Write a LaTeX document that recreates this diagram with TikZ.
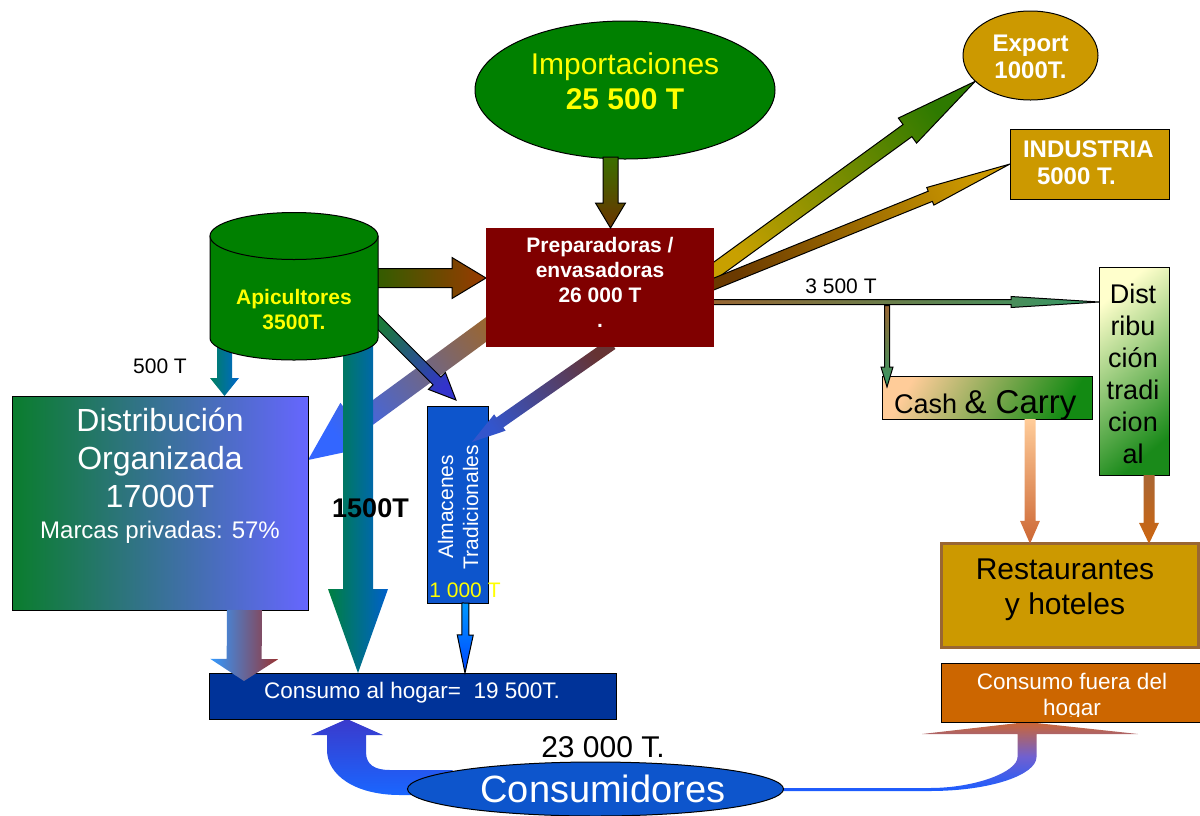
\documentclass[tikz,border=0pt]{standalone}
\usepackage{fontspec}
\setmainfont{Liberation Sans}
\usetikzlibrary{calc,shapes.geometric}
\pgfdeclarelayer{back}
\pgfdeclarelayer{mid}
\pgfsetlayers{back,mid,main}
\definecolor{gr}{HTML}{008000}
\definecolor{yel}{HTML}{FFFF00}
\definecolor{prepred}{HTML}{800000}
\definecolor{gold}{HTML}{CC9900}
\definecolor{orng}{HTML}{CC6600}
\definecolor{navytwo}{HTML}{003399}
\definecolor{blu}{HTML}{0D55CC}
\definecolor{brn}{HTML}{996633}
\definecolor{dogreen}{HTML}{0A7D2D}
\definecolor{doblue}{HTML}{6666FF}
\definecolor{impA}{HTML}{3A7000}
\definecolor{impB}{HTML}{6B3300}
\definecolor{apA}{HTML}{2E5E00}
\definecolor{apB}{HTML}{9A3A00}
\definecolor{aaA}{HTML}{1A7A3A}
\definecolor{aaB}{HTML}{3333CC}
\definecolor{paA}{HTML}{663333}
\definecolor{paB}{HTML}{3355CC}
\definecolor{pdA}{HTML}{996633}
\definecolor{pdB}{HTML}{3366FF}
\definecolor{bgA}{HTML}{008040}
\definecolor{bgB}{HTML}{0060CC}
\definecolor{fhA}{HTML}{008060}
\definecolor{fhB}{HTML}{0066CC}
\definecolor{dcA}{HTML}{3399FF}
\definecolor{dcB}{HTML}{993333}
\definecolor{acA}{HTML}{0099FF}
\definecolor{acB}{HTML}{0044FF}
\definecolor{exA}{HTML}{C8A000}
\definecolor{exB}{HTML}{2E7A00}
\definecolor{inA}{HTML}{6B3A00}
\definecolor{inB}{HTML}{CC9900}
\definecolor{lnB}{HTML}{339966}
\definecolor{peach}{HTML}{FFCC99}
\definecolor{ccB}{HTML}{138A13}
\definecolor{dtA}{HTML}{FFFFCC}
\definecolor{dtB}{HTML}{1A8A1A}
\definecolor{crB}{HTML}{CC6633}
\definecolor{drA}{HTML}{AA6633}
\definecolor{drB}{HTML}{CC6611}
\definecolor{lcA}{HTML}{3A3ACC}
\definecolor{lcB}{HTML}{1A66FF}
\definecolor{rcA}{HTML}{CC6633}
\definecolor{rcM}{HTML}{7060D0}
\definecolor{rcB}{HTML}{1A5CFF}
% block arrow: #1 options, #2 tail, #3 tip, #4 half shaft, #5 half head, #6 head length
\newcommand\blockarrow[6]{%
  \coordinate (bat) at (#2);
  \coordinate (bap) at (#3);
  \coordinate (bah) at ($(bap)!#6pt!(bat)$);
  \path[#1] ($(bat)!#4pt!90:(bap)$) -- ($(bah)!#4pt!-90:(bat)$) -- ($(bah)!#5pt!-90:(bat)$) -- (bap) -- ($(bah)!#5pt!90:(bat)$) -- ($(bah)!#4pt!90:(bat)$) -- ($(bat)!#4pt!-90:(bap)$) -- cycle;}
\begin{document}
\begin{tikzpicture}[x=1pt,y=-1pt,
  shp/.style={inner sep=0pt, outer sep=0pt},
  box/.style={shp, rectangle, draw=black, line width=1pt},
  lbl/.style={inner sep=0pt, outer sep=0pt, align=center},
  outl/.style={draw=black, line width=1pt}]
\useasboundingbox (0,0) rectangle (1200,815);

% ---------- nodes ----------
\node[shp, ellipse, draw=black, line width=1pt, fill=gr, minimum width=300pt, minimum height=138pt] (imp) at (625,90) {};
\node[lbl, text=yel, font=\fontsize{30}{35}\selectfont] at (625,81.75) {Importaciones\\\textbf{25 500 T}};

\node[shp, rectangle, fill=prepred, minimum width=228pt, minimum height=119pt] (prep) at (600,287.5) {};
\node[lbl, text=white, font=\bfseries\fontsize{21}{24.7}\selectfont] at (600,282.4) {Preparadoras /\\envasadoras\\26 000 T\\.};

\node[shp, minimum width=168pt, minimum height=148pt] (apic) at (294,286) {};
\filldraw[fill=gr, draw=black, line width=1pt] (210,236) -- (210,338) arc[start angle=180, end angle=360, x radius=84pt, y radius=22pt] -- (378,236) -- cycle;
\filldraw[fill=gr, draw=black, line width=1pt] (294,236) ellipse[x radius=84pt, y radius=23.5pt];
\node[lbl, text=yel, font=\bfseries\fontsize{21}{25}\selectfont] at (294,310) {Apicultores\\3500T.};

\node[box, left color=dogreen, right color=doblue, minimum width=296pt, minimum height=214pt] (dorg) at (160,503) {};
\node[lbl, text=white, font=\fontsize{32}{38}\selectfont] at (160,458.3) {Distribución\\Organizada\\17000T};
\node[lbl, text=white, anchor=base, font=\fontsize{24}{28}\selectfont] at (160,538) {Marcas privadas: 57\%};

\node[box, fill=blu, minimum width=61pt, minimum height=197pt] (alm) at (457.5,504.5) {};
\node[lbl, text=white, rotate=90, font=\fontsize{21}{25}\selectfont] at (458,507) {Almacenes\\Tradicionales};
\node[lbl, text=yel, anchor=base, font=\fontsize{21}{25}\selectfont] at (465,597) {1 000 T};

\node[box, fill=navytwo, minimum width=407pt, minimum height=46pt] (cah) at (412.5,696) {};
\node[lbl, text=white, anchor=base, font=\fontsize{22.5}{27}\selectfont] at (412,698) {Consumo al hogar=\ \ 19 500T.};

\node[shp, ellipse, draw=black, line width=1pt, fill=blu, minimum width=376pt, minimum height=54pt] (cons) at (595.5,789) {};
\node[lbl, text=white, anchor=base, font=\fontsize{38}{44}\selectfont] at (603,802) {Consumidores};
\node[lbl, anchor=base, font=\fontsize{30}{35}\selectfont] at (603,757) {23 000 T.};

\node[shp, ellipse, draw=black, line width=1pt, fill=gold, minimum width=135pt, minimum height=89pt] (exp) at (1030.5,55.5) {};
\node[lbl, text=white, font=\bfseries\fontsize{24}{27}\selectfont] at (1030.5,56.7) {Export\\1000T.};

\node[box, fill=gold, minimum width=159pt, minimum height=70pt] (ind) at (1089.5,164) {};
\node[lbl, align=left, anchor=west, text=white, font=\bfseries\fontsize{24}{27}\selectfont] at (1023,162.9) {INDUSTRIA\\\hspace*{14pt}5000 T.};

\node[box, top color=peach, bottom color=ccB, shading angle=60, minimum width=210pt, minimum height=43pt] (cash) at (987,397.5) {};
\node[lbl, anchor=base west, font=\fontsize{27}{32}\selectfont] at (894,413) {Cash {\fontsize{33}{38}\selectfont\& Carry}};

\node[box, top color=dtA, bottom color=dtB, shading angle=40, minimum width=70pt, minimum height=208pt] (dtr) at (1134,371) {};
\node[lbl, font=\fontsize{27}{32}\selectfont] at (1133,374.2) {Dist\\ribu\\ción\\tradi\\cion\\al};

\node[shp, rectangle, draw=brn, line width=3pt, fill=gold, minimum width=257pt, minimum height=103.5pt] (rest) at (1070,595.5) {};
\node[lbl, font=\fontsize{30}{35}\selectfont] at (1065,589.7) {Restaurantes\\y hoteles};

\node[box, fill=orng, minimum width=262pt, minimum height=59pt] (cfh) at (1072,692.5) {};
\begin{scope}
\clip (941,663) rectangle (1203,716);
\node[lbl, text=white, font=\fontsize{22.5}{26}\selectfont] at (1072,697) {Consumo fuera del\\hogar};
\end{scope}

\node[lbl, anchor=base, font=\bfseries\fontsize{27}{32}\selectfont] at (370.5,517) {1500T};
\node[lbl, anchor=base, font=\fontsize{21}{25}\selectfont] at (160,373) {500 T};
\node[lbl, anchor=base, font=\fontsize{21}{25}\selectfont] at (841,293) {3 500 T};

% ---------- connectors ----------
\begin{pgfonlayer}{back}
\blockarrow{shade, top color=pdA, bottom color=pdB, shading angle=-53.8}{$(prep.west)+(24,24.5)$}{$(dorg.east)+(0,-43)$}{10}{27}{60}
\end{pgfonlayer}

\begin{pgfonlayer}{mid}
\blockarrow{shade, left color=bgA, right color=bgB}{$(apic.south)+(64,-30)$}{$(cah.north west)+(149,0)$}{15}{30}{84}
\blockarrow{shade, left color=fhA, right color=fhB}{$(apic.south)+(-69.5,-15)$}{$(dorg.north)+(64.5,0)$}{7.5}{14.5}{18}
\blockarrow{outl, left color=apA, right color=apB}{$(apic.east)+(-6,-8)$}{$(prep.west)+(0,-9.5)$}{9.5}{20.5}{34}
\blockarrow{outl, top color=aaA, bottom color=aaB, shading angle=45}{$(apic.east)+(-6,30)$}{$(alm.north)+(-1.5,-6)$}{5.5}{12}{27}
\blockarrow{outl, top color=exA, bottom color=exB, shading angle=126}{$(prep.east)+(-10,-9)$}{exp.205}{7.5}{15.5}{84}
\blockarrow{outl, top color=inA, bottom color=inB, shading angle=111.9}{$(prep.east)+(-10,0.5)$}{ind.west}{5.5}{9.5}{86}
\blockarrow{outl, left color=brn, right color=lnB}{$(prep.east)+(-5,14.5)$}{$(dtr.west)+(0,-69)$}{2.5}{5.5}{88}
% Consumidores -> Consumo al hogar
\coordinate (cahin) at ($(cah.south west)+(138,0)$);
\path[shade, top color=lcA, bottom color=lcB] ($(cons.west)+(45,6)$) -- ($(cahin)+(53,76)$) .. controls ($(cahin)+(8,76)$) and ($(cahin)+(-20,56)$) .. ($(cahin)+(-20,31)$) -- ($(cahin)+(-20,16)$) -- ($(cahin)+(-36,16)$) -- (cahin) -- ($(cahin)+(36,16)$) -- ($(cahin)+(19,16)$) -- ($(cahin)+(19,33)$) .. controls ($(cahin)+(19,46)$) and ($(cahin)+(28,51)$) .. ($(cahin)+(43,51)$) -- ($(cons.west)+(45,-19)$) -- cycle;
% Consumidores -> Consumo fuera del hogar
\coordinate (cfhin) at ($(cfh.south west)+(86,0)$);
\path[shade, top color=rcA, bottom color=rcB, middle color=rcM] ($(cons.east)+(0,2)$) -- ($(cfhin)+(-97,69)$) .. controls ($(cfhin)+(-37,69)$) and ($(cfhin)+(9.5,53)$) .. ($(cfhin)+(9.5,35)$) -- ($(cfhin)+(9.5,12)$) -- ($(cfhin)+(111,12)$) -- (cfhin) -- ($(cfhin)+(-105,12)$) -- ($(cfhin)+(-9.5,12)$) -- ($(cfhin)+(-9.5,35)$) .. controls ($(cfhin)+(-9.5,50)$) and ($(cfhin)+(-52,66)$) .. ($(cfhin)+(-97,66)$) -- ($(cons.east)+(0,-1)$) -- cycle;
\end{pgfonlayer}

\blockarrow{outl, top color=impA, bottom color=impB}{$(imp.south)+(-14.5,-2)$}{$(prep.north)+(10.5,0)$}{7.5}{15}{25}
\begin{scope}
\clip ($(prep.south)+(-600,0)$) rectangle (1200,815);
\blockarrow{shade, top color=paA, bottom color=paB, shading angle=-55.3}{$(prep.south)+(12,-3)$}{$(alm.north east)+(-16,36)$}{6}{10}{34}
\end{scope}
\blockarrow{shade, left color=dcA, right color=dcB}{$(dorg.south)+(84.5,0)$}{$(cah.north west)+(35,8)$}{17.5}{34}{22}
\blockarrow{outl, top color=acA, bottom color=acB}{$(alm.south)+(8,0)$}{$(cah.north west)+(256,0)$}{3.5}{8}{38}
\coordinate (split) at ($(prep.east)+(173,18)$);
\blockarrow{outl, top color=brn, bottom color=lnB}{split}{$(cash.north west)+(5,11)$}{2.5}{6}{20}
\blockarrow{shade, top color=peach, bottom color=crB}{$(cash.south east)+(-62,0)$}{$(rest.north)+(-40,0)$}{5.5}{10}{23}
\blockarrow{shade, top color=drA, bottom color=drB}{$(dtr.south)+(15,0)$}{$(rest.north)+(79,0)$}{5.5}{10}{21}
\end{tikzpicture}
\end{document}
